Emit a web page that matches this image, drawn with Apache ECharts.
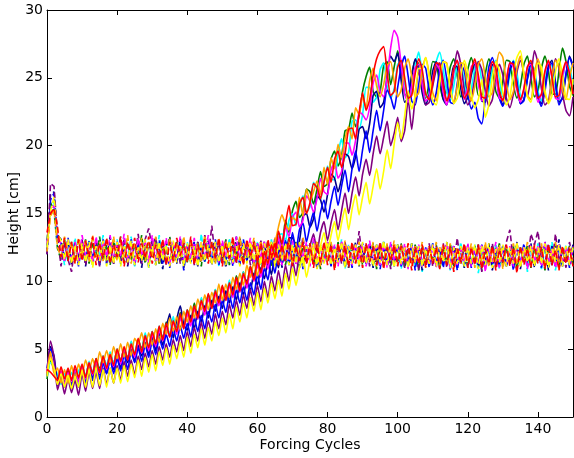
<!DOCTYPE html>
<html><head><meta charset="utf-8">
<script src="https://cdn.jsdelivr.net/npm/echarts@6/dist/echarts.min.js"></script>
<style>html,body{margin:0;padding:0;background:#fff}#c{width:574px;height:458px}</style>
</head><body><div id="c"></div>
<script>
// forcing cycle index 0..150
const cycles = Array.from({length:151}, (_, i) => i);
const xTickLabels = [0,20,40,60,80,100,120,140];
const yTickLabels = [0,5,10,15,20,25,30];

// solid lines (growing runs)
const solidOrange = [3.2,4.8,3.2,3.6,2.5,3.5,2.5,3.8,2.8,3.9,
3.1,4.2,3.4,4.3,3.4,4.8,4.0,4.9,4.0,5.2,
4.3,5.4,4.4,5.5,4.5,5.8,5.4,6.2,5.1,6.2,
5.3,6.5,5.5,6.9,6.1,7.3,6.3,7.4,6.4,7.8,
7.0,8.2,7.3,8.7,7.9,9.0,7.9,9.2,8.4,9.8,
8.6,9.8,8.8,10.3,9.4,10.6,9.7,11.2,10.3,11.4,
10.4,11.8,11.0,12.6,11.6,12.8,14.0,14.9,14.2,13.8,
14.7,14.5,16.2,14.8,16.8,15.9,16.6,17.4,16.4,18.4,
17.1,19.1,18.3,20.1,19.1,20.5,21.4,20.5,22.8,22.3,
23.6,22.8,24.8,25.7,24.4,23.6,24.5,25.9,26.2,24.7,
23.6,24.1,25.7,26.4,25.1,23.6,23.9,25.6,26.5,25.3,
23.9,23.3,24.9,26.2,26.1,24.3,23.2,24.4,26.1,26.0,
24.2,23.3,24.4,26.0,26.4,25.0,23.6,23.9,25.7,26.9,
26.5,24.6,23.4,24.0,25.7,26.6,25.2,23.7,23.4,25.3,
26.4,25.4,23.8,23.2,25.0,26.3,25.9,24.1,23.4,25.0,26.1];
const solidGreen = [2.8,4.2,3.5,2.6,3.3,2.5,3.4,2.7,3.5,2.8,
3.8,2.9,4.0,3.1,4.3,3.5,4.5,3.5,4.7,3.9,
5.0,4.1,5.1,4.3,5.5,4.5,5.7,5.0,6.1,5.1,
6.3,5.4,6.6,5.8,7.0,5.9,7.1,6.5,7.7,6.6,
7.9,7.0,8.4,7.4,8.7,7.7,9.0,8.2,9.4,8.4,
9.6,8.7,9.9,9.1,10.4,9.4,10.7,9.7,11.1,10.3,
11.6,10.7,12.2,11.4,12.9,11.9,13.5,12.6,14.5,13.6,
15.2,15.9,14.7,15.1,16.8,16.6,15.7,16.8,18.1,17.0,
17.2,19.0,19.6,18.5,19.2,21.1,21.2,22.4,21.4,22.2,
24.0,25.1,25.8,24.0,23.6,24.0,25.9,26.2,24.5,25.8,
27.0,25.5,23.8,23.6,25.2,26.3,26.0,24.1,23.5,24.7,
26.2,26.1,24.5,23.4,24.2,25.8,26.4,25.1,23.6,24.0,
25.6,26.5,25.4,23.7,23.7,25.3,26.4,25.7,24.0,23.5,
24.8,26.3,26.2,24.5,23.5,24.4,26.0,26.6,25.0,23.6,
24.0,25.7,26.6,25.5,23.8,23.8,25.5,27.2,26.2,24.4,23.7];
const solidCyan = [3.0,4.0,3.8,3.1,2.4,3.2,2.6,3.3,2.5,3.4,
3.8,3.0,4.1,3.3,4.2,3.3,4.5,3.8,4.8,3.9,
5.0,4.0,5.0,4.1,5.6,4.7,5.7,4.8,6.2,5.1,
6.3,5.4,6.7,5.6,6.8,6.1,7.4,6.3,7.5,6.5,
7.9,7.0,8.1,7.2,8.8,8.0,9.0,8.0,9.4,8.5,
9.6,8.6,10.1,9.1,10.1,9.2,10.7,9.8,11.0,10.1,
11.5,10.6,11.9,11.1,12.8,11.9,13.4,13.5,12.9,14.5,
15.0,14.1,15.5,16.3,15.1,15.5,17.3,16.9,16.0,17.4,
18.5,17.5,17.5,19.4,20.5,19.1,19.5,21.8,21.9,21.2,
22.3,24.3,24.3,23.2,23.6,25.6,26.1,24.4,23.5,24.2,
26.0,26.2,24.6,23.5,23.9,25.8,26.9,25.4,23.6,23.7,
25.0,26.2,26.9,25.6,24.0,23.3,24.4,25.9,26.1,24.6,
23.4,24.2,25.7,26.2,24.7,23.3,24.0,25.7,26.3,24.9,
23.6,23.8,25.3,26.3,25.4,23.7,23.5,24.9,26.1,25.6,
24.0,23.3,24.6,26.0,25.9,24.2,23.3,24.7,26.2,25.8,24.5];
const solidRed = [3.5,3.3,3.0,2.7,3.7,2.8,3.6,2.7,3.8,2.9,
3.9,2.9,4.0,3.2,4.3,3.3,4.5,3.6,4.6,3.8,
5.0,4.1,5.2,4.2,5.4,4.6,5.8,4.8,6.0,5.1,
6.3,5.4,6.7,5.7,6.9,5.9,7.1,6.3,7.6,6.5,
7.9,7.0,8.2,7.3,8.6,7.8,9.1,8.0,9.3,8.4,
9.7,8.6,9.9,9.0,10.3,9.3,10.6,9.8,11.1,10.1,
11.5,10.6,12.2,11.3,12.7,11.8,13.7,12.8,14.2,15.6,
14.1,14.2,15.7,16.2,15.0,15.8,17.2,16.9,16.1,17.3,
18.4,17.3,19.0,19.6,18.4,19.4,21.2,21.3,20.5,22.4,
23.9,22.6,23.4,25.2,26.4,27.0,27.3,25.4,23.7,24.0,
25.8,26.3,25.0,23.5,23.7,25.3,26.4,25.6,23.8,23.4,
24.6,26.1,26.0,24.4,23.3,24.1,25.7,26.3,24.8,23.5,
23.9,25.5,26.4,25.2,23.6,23.5,25.2,26.2,25.7,24.0,
23.3,24.7,26.1,26.0,24.3,23.4,24.2,25.8,26.3,24.9,
23.5,23.8,25.5,26.3,25.1,23.6,23.7,25.4,26.2,25.3,23.8];
const solidMagenta = [3.3,4.6,3.6,2.5,3.4,2.4,3.3,2.6,3.5,2.6,
3.7,2.8,4.0,3.1,4.1,3.2,4.3,3.5,4.6,3.7,
4.9,3.9,5.0,4.2,5.3,4.4,5.6,4.7,5.9,4.9,
6.1,5.2,6.4,5.6,6.6,5.9,7.0,6.1,7.3,6.5,
7.6,6.7,8.0,7.2,8.5,7.5,8.7,8.0,9.1,8.2,
9.4,8.6,9.7,8.8,10.0,9.2,10.5,9.5,10.8,10.0,
11.2,10.3,11.8,10.9,12.4,11.6,13.2,12.2,14.1,13.3,
14.7,15.1,14.0,14.5,16.3,15.9,15.1,16.1,17.6,16.6,
16.4,18.2,18.8,17.6,18.1,20.2,20.2,19.3,20.4,22.5,
22.3,21.9,22.8,24.6,25.2,24.0,23.6,25.0,27.2,28.5,
28.0,26.0,23.8,23.2,24.4,25.8,26.0,24.5,23.3,23.6,
24.9,26.0,25.6,23.9,23.0,24.1,25.6,26.3,25.0,23.4,
24.3,25.8,26.1,24.6,23.3,23.6,25.2,26.2,25.2,23.5,
23.4,24.9,26.1,25.8,24.1,23.2,24.2,25.8,26.0,24.5,
23.2,23.8,25.4,26.2,25.0,23.5,23.4,25.0,26.1,25.4,23.8];
const solidNavy = [3.0,5.2,4.5,2.8,3.2,2.4,3.3,2.5,3.4,2.6,
3.6,2.7,3.7,2.8,4.0,3.1,4.1,3.2,4.4,3.5,
4.5,3.6,4.9,4.0,5.0,4.1,5.3,4.5,5.5,4.6,
5.9,4.9,6.2,5.3,6.6,7.6,5.8,7.2,8.2,6.8,
6.4,7.5,6.5,7.8,7.0,8.2,7.3,8.6,7.8,8.9,
8.0,9.3,8.4,9.6,8.6,9.9,9.0,10.1,9.3,10.6,
9.7,11.0,10.2,11.5,10.5,12.0,11.0,12.6,11.6,13.2,
13.2,12.5,13.0,14.8,15.0,14.0,14.6,16.3,16.0,15.1,
16.4,17.9,17.6,16.6,17.6,19.4,19.2,18.3,19.2,21.2,
21.4,20.5,21.6,23.7,24.0,22.8,23.2,25.1,26.6,26.2,
26.8,24.8,23.2,23.5,25.1,26.4,25.6,23.9,23.0,23.8,
25.5,26.2,25.1,23.4,23.0,24.4,25.9,25.8,24.2,23.1,
23.6,25.2,26.1,24.9,23.3,23.2,24.7,26.0,25.5,23.8,
23.0,23.9,25.5,26.2,24.6,23.1,23.4,25.0,26.1,25.2,
23.5,23.1,24.3,25.9,26.3,24.7,23.2,23.5,25.2,26.6,25.9];
const solidBlue = [3.6,5.0,4.2,2.3,3.1,2.2,3.0,2.3,3.1,2.2,
3.4,2.5,3.6,2.7,3.7,2.8,4.0,3.2,4.2,3.2,
4.3,3.4,4.6,3.5,4.8,4.0,5.1,4.1,5.3,4.4,
5.6,4.6,5.9,5.0,6.1,5.2,6.5,5.6,6.7,5.8,
6.9,5.9,7.3,6.3,7.5,6.5,7.8,7.0,8.3,7.3,
8.6,7.7,9.0,8.0,9.4,8.4,9.6,8.6,9.9,9.0,
10.5,9.4,11.0,10.1,11.7,10.6,12.3,11.3,13.0,11.8,
13.6,12.3,13.8,14.3,12.9,14.1,15.1,13.7,15.1,16.0,
14.6,15.9,17.0,15.6,17.0,18.2,16.6,18.3,19.6,18.1,
19.7,21.1,19.5,21.1,22.6,21.1,22.6,24.1,23.6,22.7,
24.3,25.8,26.6,25.1,23.3,23.0,24.5,26.0,25.7,24.0,
23.0,23.9,25.6,26.3,24.9,23.2,23.1,24.6,26.0,25.5,
23.8,22.7,23.2,22.0,21.6,23.5,25.8,26.5,25.4,23.5,
22.9,24.0,25.7,26.2,24.7,23.1,23.3,24.9,26.0,25.3,
23.7,22.9,24.0,25.7,26.1,24.6,23.0,23.6,25.3,26.5,25.8];
const solidPurple = [3.2,5.6,4.4,2.0,2.9,1.7,2.8,1.8,2.7,1.6,
3.2,1.9,3.3,2.1,3.3,2.1,3.6,2.4,3.6,2.5,
3.8,2.7,4.1,3.0,4.2,3.1,4.5,3.5,4.7,3.7,
4.9,3.9,5.2,4.2,5.4,4.4,5.7,4.8,6.0,4.9,
6.3,5.2,6.6,5.6,7.0,5.8,7.1,6.1,7.6,6.5,
7.8,6.8,8.3,7.3,8.6,7.5,9.0,8.0,9.4,8.2,
9.7,8.5,10.0,8.8,10.4,9.3,10.8,9.5,11.2,10.0,
11.6,10.4,12.2,12.8,11.4,12.6,13.5,12.2,13.6,14.4,
13.0,14.3,15.3,13.8,15.2,16.5,15.0,16.5,17.7,16.3,
17.9,19.0,17.8,19.4,20.7,19.4,20.6,21.8,20.0,20.9,
22.1,20.3,21.1,23.4,21.2,23.6,25.4,24.7,23.0,23.2,
24.4,25.6,26.1,24.8,23.4,23.6,25.4,27.0,26.0,24.1,
23.0,23.5,25.0,26.2,25.6,24.0,22.9,23.4,25.1,26.0,
25.2,23.5,22.8,23.8,25.4,26.3,25.3,23.6,25.0,27.0,
26.1,24.2,23.0,23.3,25.0,26.4,25.7,23.9,22.6,22.2,23.6];
const solidYellow = [3.0,4.3,3.6,2.4,3.2,2.2,3.1,2.1,3.0,2.2,
3.5,2.2,3.5,2.2,3.6,2.3,3.5,2.2,3.6,2.5,
3.6,2.5,3.8,2.6,3.9,2.9,4.2,3.0,4.4,3.3,
4.6,3.4,4.8,3.8,5.1,3.9,5.3,4.3,5.5,4.4,
5.9,4.7,6.1,5.1,6.5,5.3,6.6,5.6,7.0,6.0,
7.3,6.2,7.6,6.5,8.1,7.0,8.4,7.3,8.8,7.8,
9.2,7.9,9.5,8.4,9.9,8.7,10.1,8.9,10.6,9.4,
11.0,9.7,11.0,11.8,10.3,11.6,12.6,11.3,12.6,13.6,
12.2,13.4,14.4,13.0,14.3,15.4,13.8,15.3,16.4,14.9,
16.2,17.3,15.7,17.0,18.3,16.8,18.1,19.7,18.3,20.1,
21.7,20.5,22.2,24.0,22.7,23.7,25.7,25.7,26.5,25.0,
23.3,23.0,24.6,26.2,26.0,24.3,23.1,23.5,25.2,26.3,
25.4,23.8,22.8,23.4,24.9,22.1,23.0,25.0,26.2,25.5,
23.9,23.0,23.6,25.3,26.5,27.0,25.3,23.6,23.2,24.6,
26.1,25.8,24.1,23.1,23.7,25.5,26.4,25.2,23.5,23.4,24.9];

// dashed lines (steady runs)
const dashedGreen = [13.0,15.8,15.2,12.4,11.6,13.1,11.5,12.9,11.4,13.0,
11.7,13.1,11.3,12.8,11.9,13.3,11.5,12.7,11.2,13.0,
11.9,13.3,11.4,12.9,11.5,12.7,11.8,13.4,11.3,12.8,
11.8,13.2,11.2,12.6,12.0,13.3,11.4,12.9,11.5,12.7,
11.4,13.0,11.7,12.9,11.1,13.2,11.8,12.8,11.4,12.9,
11.7,13.1,11.2,12.7,11.9,13.2,11.3,12.6,11.7,13.0,
11.4,12.8,11.6,13.0,11.1,12.6,11.7,13.0,11.2,12.5,
11.6,12.9,11.0,12.7,11.7,12.8,11.2,12.6,10.9,12.8,
11.5,12.7,11.1,12.9,11.6,12.5,11.0,12.8,11.5,12.6,
11.2,12.7,11.6,12.8,10.9,12.6,11.5,12.7,11.1,12.5,
11.4,12.8,11.0,12.4,11.5,12.7,10.8,12.6,11.2,12.5,
11.6,12.7,10.9,12.4,11.4,12.8,11.1,12.3,11.5,12.6,
11.0,12.5,11.4,12.7,10.8,12.4,11.2,12.6,11.6,12.8,
11.1,12.4,11.5,12.6,10.9,12.5,11.4,12.7,11.0,12.4,
11.5,12.6,10.8,12.5,11.2,12.7,11.0,12.3,11.6,12.6,11.2];
const dashedCyan = [12.5,15.5,15.9,13.0,12.8,11.2,12.8,11.4,13.2,11.3,
12.9,11.5,13.1,11.1,12.8,11.8,13.4,11.3,12.7,11.5,
13.1,11.2,12.9,11.6,13.3,11.1,12.7,11.7,13.0,11.0,
12.8,11.4,13.4,11.6,12.9,11.3,12.6,11.6,13.1,11.2,
12.9,11.5,12.7,11.2,13.5,11.4,12.8,11.7,13.0,11.1,
12.7,11.4,13.2,11.6,12.8,11.2,13.0,11.5,12.7,11.3,
12.9,11.1,12.7,11.6,13.1,11.3,12.6,11.4,13.2,11.2,
12.7,11.5,12.9,11.0,12.6,11.4,13.0,11.1,12.5,11.6,
12.8,11.2,12.6,11.5,13.1,10.9,12.7,11.3,12.8,11.2,
12.6,11.4,12.9,11.0,12.5,11.5,13.0,11.1,12.6,11.3,
12.7,10.9,12.5,11.4,12.8,11.0,12.6,10.7,12.3,11.3,
12.8,11.1,12.4,11.4,12.7,10.8,12.5,11.2,12.9,11.0,
12.5,11.3,12.7,10.6,12.4,11.2,12.6,11.1,12.8,10.9,
12.6,11.2,12.3,11.0,12.7,11.3,12.5,10.7,12.6,11.4,
12.8,10.9,12.4,11.2,12.9,10.8,12.5,11.3,12.7,11.1,12.4];
const dashedRed = [13.6,15.0,15.4,14.0,11.8,13.2,11.5,12.9,11.3,13.1,
11.5,13.0,11.8,13.3,11.2,12.8,11.7,13.2,11.3,12.7,
11.8,13.3,11.1,12.9,11.9,13.2,11.4,12.8,11.7,13.3,
11.3,12.7,11.8,13.1,11.2,12.9,11.5,13.2,11.9,12.8,
11.4,13.3,11.2,12.7,11.8,13.1,11.3,12.9,11.7,13.2,
11.1,12.8,11.7,13.3,11.4,12.7,11.2,13.1,11.8,12.9,
11.4,12.8,11.0,13.1,11.7,12.9,11.2,12.7,11.5,13.2,
11.1,12.6,11.5,12.9,11.3,12.8,11.0,12.7,11.4,12.9,
11.2,12.7,10.8,12.8,11.4,12.6,11.1,12.9,11.3,12.5,
11.0,12.8,11.4,12.6,11.2,12.9,10.9,12.5,11.5,12.7,
11.1,12.6,11.4,12.8,10.8,12.5,11.3,12.7,11.0,12.6,
11.3,12.5,10.9,12.7,11.2,12.6,10.7,12.4,11.4,12.8,
11.0,12.5,11.2,12.7,10.9,12.4,11.3,12.6,10.8,12.3,
11.4,12.7,11.1,12.5,10.6,12.6,11.2,12.4,11.0,12.7,
11.3,12.5,10.9,12.7,11.2,12.3,10.8,12.6,11.3,12.4,11.1];
const dashedMagenta = [12.8,15.0,15.6,13.2,12.8,11.4,13.0,11.7,12.9,11.5,
13.4,11.9,12.8,11.4,13.3,11.5,13.0,11.8,13.4,11.4,
12.9,11.9,13.5,11.5,12.8,11.3,13.2,11.9,12.9,11.4,
13.4,11.5,12.8,11.9,13.2,11.2,12.9,11.8,13.3,11.4,
12.7,11.7,13.2,11.3,12.9,11.9,13.4,11.5,12.8,11.4,
13.0,11.8,12.7,11.3,13.3,11.5,12.8,11.9,13.2,11.2,
12.8,11.7,13.0,11.3,12.7,11.8,13.3,11.2,12.8,11.5,
13.0,11.2,12.7,11.7,12.9,11.1,13.2,11.5,12.6,11.3,
12.9,11.4,12.7,11.1,13.0,11.7,12.6,11.2,12.8,11.5,
12.7,11.1,13.0,11.4,12.6,11.2,12.8,11.0,12.9,11.5,
12.5,11.2,12.8,10.9,12.6,11.4,12.7,11.1,12.4,11.3,
12.7,11.0,12.5,11.5,12.8,10.9,12.6,11.2,12.4,11.4,
12.8,11.1,12.5,11.3,12.7,10.7,12.5,11.4,12.9,11.0,
12.4,11.3,12.6,11.1,12.8,11.2,12.5,10.9,12.7,11.4,
12.6,11.1,12.9,11.3,12.4,11.0,12.7,11.5,12.5,11.2,12.6];
const dashedOrange = [12.2,14.8,15.3,12.5,11.8,13.3,11.7,12.9,11.4,13.2,
11.9,13.0,11.4,13.4,11.8,12.9,11.5,13.2,11.9,13.3,
11.5,12.9,11.8,13.4,11.3,12.8,11.7,13.2,11.5,12.9,
11.8,13.3,11.4,12.9,11.6,13.2,11.3,12.8,11.8,13.3,
11.5,13.0,11.7,12.8,11.4,13.4,11.6,12.9,11.3,13.2,
11.8,13.0,11.5,12.9,11.7,13.3,11.2,12.8,11.6,13.2,
11.7,13.0,11.4,12.8,11.8,13.2,11.3,12.7,11.6,13.0,
11.2,12.8,11.7,13.2,11.4,12.7,11.6,13.0,11.1,12.7,
11.5,12.9,11.3,12.8,11.7,13.0,11.2,12.6,11.5,12.9,
11.3,12.7,11.6,12.9,11.1,12.6,11.4,12.8,11.6,13.0,
11.2,12.7,11.5,12.8,11.1,12.6,11.4,12.9,11.0,12.5,
11.5,12.9,11.1,12.6,11.4,12.8,10.9,12.5,11.3,12.7,
11.5,12.8,11.0,12.6,11.4,12.9,11.1,12.4,11.5,12.7,
10.9,12.6,11.4,12.8,11.2,12.5,11.5,12.9,11.1,12.6,
11.5,12.8,11.0,12.5,11.4,12.9,10.9,12.6,11.5,12.5,11.3];
const dashedNavy = [12.0,16.4,16.6,13.4,13.1,11.6,13.0,11.2,12.8,11.7,
13.1,11.1,12.9,11.5,13.0,11.2,12.7,11.7,13.3,11.3,
12.8,11.4,13.0,11.1,12.6,11.5,12.9,11.0,12.8,11.4,
13.0,11.2,12.7,10.9,12.9,11.4,12.8,11.3,13.2,11.0,
12.6,11.5,12.9,11.1,12.7,11.4,13.0,11.2,12.6,11.5,
12.9,11.0,12.7,11.4,13.3,11.2,12.8,11.5,12.6,11.1,
12.7,11.4,12.9,11.2,12.6,11.5,13.0,11.0,12.8,11.3,
12.6,11.4,12.9,11.1,12.5,11.5,12.8,10.9,12.7,11.4,
12.9,11.2,12.5,11.5,12.8,11.0,12.6,11.3,12.9,11.1,
12.5,11.3,12.8,11.0,12.6,11.4,12.9,11.1,12.4,11.5,
12.7,11.2,12.5,11.0,12.8,11.3,12.6,10.8,12.4,11.4,
12.6,11.1,12.5,11.3,12.9,10.9,12.6,11.3,12.4,11.0,
12.7,11.2,12.6,11.0,12.5,11.4,12.8,10.8,12.5,11.2,
12.6,11.1,12.4,11.4,12.9,10.9,12.5,11.2,12.8,11.0,
12.4,11.3,12.7,10.8,12.6,11.2,13.1,11.1,12.5,11.3,12.7];
const dashedBlue = [12.4,16.0,16.5,13.0,12.8,11.7,13.2,11.5,12.9,11.1,
12.8,11.4,13.0,11.7,12.7,11.2,13.1,11.3,12.8,11.5,
12.9,11.3,12.6,11.5,13.1,11.2,12.7,11.4,12.9,11.1,
12.7,11.5,13.0,11.3,12.6,11.0,12.8,11.4,12.9,10.8,
12.7,11.4,12.9,11.2,12.6,11.5,12.8,11.3,13.1,11.2,
12.6,11.5,12.9,11.1,12.7,11.3,13.1,11.5,12.7,11.2,
12.8,11.3,12.6,11.5,12.9,11.1,12.7,11.4,13.0,11.2,
12.5,11.3,12.8,10.9,12.7,11.5,12.9,11.1,12.5,11.4,
12.7,11.1,12.6,11.4,12.8,11.2,12.5,11.0,12.7,11.3,
12.8,11.2,12.5,11.5,12.7,10.9,12.6,11.3,12.8,11.1,
12.6,11.1,12.4,11.4,12.7,10.8,12.6,11.2,12.5,11.0,
12.8,11.3,12.5,11.0,12.6,11.2,12.7,10.8,12.5,11.3,
12.6,11.0,12.4,11.4,12.7,11.1,12.6,11.3,12.3,11.1,
12.7,11.2,12.5,10.8,12.6,11.3,12.8,11.1,12.4,11.4,
12.6,11.0,12.9,11.3,12.5,11.1,12.7,11.2,12.5,11.0,12.3];
const dashedPurple = [12.0,17.2,17.0,13.4,11.1,12.9,11.6,10.7,12.8,11.4,
13.0,11.2,12.7,11.5,13.1,11.1,12.9,11.4,12.6,11.3,
12.9,11.4,13.2,11.2,12.8,11.6,13.5,11.3,13.1,13.9,
12.5,13.3,11.4,12.9,11.2,13.2,11.5,12.8,11.3,13.0,
11.6,13.1,11.2,12.9,11.5,13.4,11.8,14.1,11.6,12.9,
11.4,13.0,11.5,12.7,11.3,13.2,11.7,12.9,11.2,12.8,
11.5,13.0,11.2,12.7,11.6,13.2,11.3,12.8,11.4,12.9,
11.1,12.7,11.5,13.3,11.3,12.6,11.4,12.9,11.1,12.7,
11.5,12.8,11.2,12.6,11.3,12.9,11.0,12.5,11.4,13.7,
11.5,12.8,11.1,12.6,11.4,12.9,11.2,12.7,10.9,12.5,
11.4,12.8,11.0,12.5,11.3,12.7,10.8,12.4,11.3,12.8,
11.1,12.6,11.4,12.8,11.0,12.5,11.3,13.2,11.2,12.6,
11.1,12.5,11.3,12.7,10.7,12.6,11.2,12.8,11.0,12.5,
11.4,12.9,13.8,11.5,12.6,11.1,12.5,11.4,13.5,12.7,
13.7,11.6,11.3,12.8,11.2,13.5,11.5,12.4,11.0,12.9,11.6];
const dashedYellow = [12.5,15.2,16.2,13.5,13.0,11.6,13.1,11.3,12.7,11.2,
12.8,11.4,12.9,11.0,12.6,11.5,13.0,11.1,12.7,11.3,
12.9,11.1,12.6,11.4,13.0,11.2,12.5,11.5,13.1,11.0,
12.6,11.2,12.9,11.5,12.7,11.1,13.0,11.4,12.6,11.1,
12.8,11.3,12.6,11.1,12.9,11.5,12.7,11.2,12.9,11.4,
12.7,11.2,13.0,11.4,12.6,11.1,12.8,11.3,12.9,11.5,
12.6,11.2,12.8,11.4,13.0,11.1,12.7,11.5,12.8,11.2,
12.7,11.3,12.9,11.1,12.6,11.4,12.8,10.9,12.7,11.3,
12.8,11.2,12.5,11.4,12.9,11.0,12.6,11.3,12.7,11.1,
12.9,11.3,12.5,11.1,12.7,11.4,13.0,11.2,12.5,11.0,
12.7,11.3,12.5,11.0,12.8,11.4,12.6,11.1,12.4,11.3,
12.7,11.1,12.5,11.4,12.9,11.0,12.5,11.3,12.6,11.1,
12.5,11.3,12.7,10.9,12.6,11.2,12.8,11.0,12.4,11.4,
12.7,11.1,12.5,11.3,12.9,11.0,12.5,11.4,12.6,11.1,
12.5,11.3,12.8,11.0,12.4,11.4,12.7,11.1,12.6,11.2,12.5];

const runs = [
  {color:'#008000', solid: solidGreen,   dashed: dashedGreen},
  {color:'#00ffff', solid: solidCyan,    dashed: dashedCyan},
  {color:'#00008b', solid: solidNavy,    dashed: dashedNavy},
  {color:'#0000ff', solid: solidBlue,    dashed: dashedBlue},
  {color:'#800080', solid: solidPurple,  dashed: dashedPurple},
  {color:'#ff00ff', solid: solidMagenta, dashed: dashedMagenta},
  {color:'#ffa500', solid: solidOrange,  dashed: dashedOrange},
  {color:'#ffff00', solid: solidYellow,  dashed: dashedYellow},
  {color:'#ff0000', solid: solidRed,     dashed: dashedRed}
];

const series = [];
runs.forEach(r => {
  series.push({type:'line', data: cycles.map((c, i) => [c, r.solid[i]]), showSymbol:false, symbol:'none',
    smooth:0.2, lineStyle:{color:r.color, width:1.6}, silent:true, animation:false});
  series.push({type:'line', data: cycles.map((c, i) => [c, r.dashed[i]]), showSymbol:false, symbol:'none',
    smooth:false, lineStyle:{color:r.color, width:1.6, type:[6,3]}, silent:true, animation:false});
});

const font = 'DejaVu Sans';
const axisCommon = {
  axisLine:{show:true, onZero:false, lineStyle:{color:'#000', width:1}},
  axisTick:{show:true, inside:true, length:5, lineStyle:{color:'#000', width:1}},
  splitLine:{show:false}
};
const chart = echarts.init(document.getElementById('c'), null, {renderer:'canvas'});
chart.setOption({
  animation:false,
  backgroundColor:'#fff',
  grid:{left:47, right:1, top:10, bottom:41, containLabel:false, outerBoundsMode:'none'},
  xAxis:[
    Object.assign({type:'value', min:0, max:150, interval:20, position:'bottom',
      axisLabel:{color:'#000', fontSize:14, fontFamily:font, margin:5,
        formatter: v => xTickLabels.includes(v) ? String(v) : ''},
      name:'Forcing Cycles', nameLocation:'middle', nameGap:21, nameMoveOverlap:false,
      nameTextStyle:{color:'#000', fontSize:14, fontFamily:font}}, axisCommon),
    Object.assign({type:'value', min:0, max:150, interval:20, position:'top',
      axisLabel:{show:false}}, axisCommon)
  ],
  yAxis:[
    Object.assign({type:'value', min:0, max:30, interval:5, position:'left',
      axisLabel:{color:'#000', fontSize:14, fontFamily:font, margin:4,
        formatter: v => yTickLabels.includes(v) ? String(v) : ''},
      name:'Height [cm]', nameLocation:'middle', nameGap:26, nameMoveOverlap:false,
      nameTextStyle:{color:'#000', fontSize:14, fontFamily:font}}, axisCommon),
    Object.assign({type:'value', min:0, max:30, interval:5, position:'right',
      axisLabel:{show:false}}, axisCommon)
  ],
  series: series
});
</script>
</body></html>
